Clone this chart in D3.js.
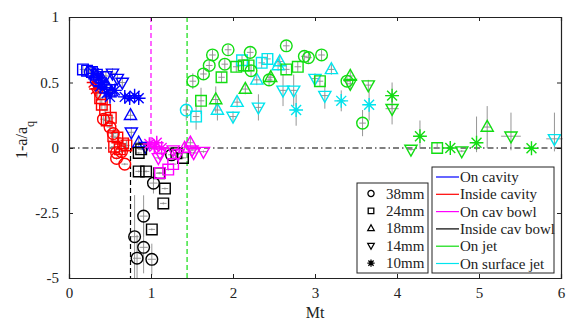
<!DOCTYPE html>
<html>
<head>
<meta charset="utf-8">
<script src="https://cdn.jsdelivr.net/npm/d3@7"></script>
<style>
  body { margin: 0; background: #fff; }
  svg text { font-family: "Liberation Serif", "DejaVu Serif", "Times New Roman", serif !important; }
</style>
</head>
<body>
<script>
// marker codes: o = 38mm, s = 24mm, ^ = 18mm, v = 14mm, * = 10mm
// each point: [marker, Mt, 1-a/aq, xErr, yErr]
var xTicks = [0, 1, 2, 3, 4, 5, 6];
var yTicks = [1, 0.5, 0, -2.5, -5];
var yTickLabels = ["1", "0.5", "0", "-2.5", "-5"];

var sizeNames = ["38mm", "24mm", "18mm", "14mm", "10mm"];
var sizeMarkers = ["o", "s", "^", "v", "*"];

var regionNames = ["On cavity", "Inside cavity", "On cav bowl", "Inside cav bowl", "On jet", "On surface jet"];
var regionColors = ["#0000ff", "#ff0000", "#ff00ff", "#000000", "#11dd11", "#00e5ee"];

var insideCavity = [
    ["*", 0.30, 0.50], ["*", 0.33, 0.45], ["v", 0.35, 0.42], ["s", 0.38, 0.38],
    ["s", 0.40, 0.33], ["s", 0.44, 0.29], ["o", 0.42, 0.22], ["s", 0.46, 0.21],
    ["s", 0.51, 0.23], ["o", 0.50, 0.16], ["o", 0.54, 0.11], ["s", 0.54, 0.09],
    ["s", 0.59, 0.08], ["s", 0.66, 0.035], ["s", 0.70, 0.02], ["s", 0.55, 0.01],
    ["o", 0.58, -0.18], ["o", 0.64, -0.14], ["o", 0.58, -0.40], ["o", 0.68, -0.62],
    ["s", 0.62, -0.05]
];

var onCavity = [
    ["s", 0.17, 0.60], ["s", 0.22, 0.59], ["s", 0.28, 0.58], ["s", 0.34, 0.56],
    ["o", 0.26, 0.58], ["o", 0.33, 0.52],
    ["*", 0.30, 0.57], ["*", 0.36, 0.54], ["*", 0.40, 0.50], ["*", 0.43, 0.46],
    ["*", 0.46, 0.42], ["*", 0.50, 0.39], ["*", 0.38, 0.47], ["*", 0.56, 0.44],
    ["*", 0.68, 0.39], ["*", 0.74, 0.38], ["*", 0.80, 0.40], ["*", 0.85, 0.38],
    ["^", 0.32, 0.56], ["^", 0.40, 0.53], ["^", 0.46, 0.48], ["^", 0.52, 0.43],
    ["^", 0.75, 0.25], ["^", 0.85, 0.04],
    ["v", 0.45, 0.55], ["v", 0.53, 0.57], ["v", 0.59, 0.53], ["v", 0.65, 0.50],
    ["v", 0.50, 0.45], ["v", 0.76, 0.12], ["v", 0.93, 0.01]
];

var insideCavBowl = [
    ["s", 0.85, -0.19], ["s", 0.85, -0.9], ["s", 0.94, -0.9], ["s", 1.10, -0.97],
    ["o", 1.03, -1.35, 0.05, 0.4], ["s", 1.17, -1.56], ["s", 1.15, -2.13],
    ["o", 0.91, -2.62, 0.05, 0.8], ["s", 1.01, -3.13], ["o", 0.80, -3.41, 0.05, 1.6],
    ["o", 0.91, -3.82, 0.05, 1.0], ["o", 0.83, -4.24, 0.05, 0.9], ["o", 1.01, -4.28, 0.05, 0.6],
    ["o", 1.25, -0.26], ["s", 1.31, -0.2], ["s", 1.39, -0.38], ["s", 0.88, -0.05]
];

var onCavBowl = [
    ["*", 0.98, 0.03], ["*", 1.04, 0.01], ["*", 1.07, 0.04], ["*", 1.13, 0.0],
    ["v", 1.09, -0.38], ["v", 1.11, -0.2], ["v", 1.27, -0.08], ["v", 1.33, -0.23],
    ["v", 1.52, -0.19], ["v", 1.64, -0.14], ["v", 1.50, -0.08],
    ["^", 1.41, 0.0], ["^", 1.48, 0.04],
    ["s", 1.21, -0.83], ["s", 1.27, -0.62], ["s", 1.11, -0.96]
];

var onSurfaceJet = [
    ["o", 1.43, 0.29, 0.04, 0.08],
    ["s", 1.55, 0.24, 0.04, 0.1], ["s", 2.11, 0.67], ["s", 2.35, 0.65], ["s", 2.42, 0.68],
    ["^", 1.81, 0.29, 0.05, 0.08], ["^", 2.05, 0.35], ["^", 2.29, 0.52], ["^", 2.55, 0.63],
    ["^", 2.57, 0.66], ["^", 3.20, 0.60],
    ["v", 2.00, 0.24], ["v", 2.31, 0.31, 0.04, 0.1], ["v", 2.61, 0.44, 0.04, 0.12],
    ["v", 2.74, 0.44, 0.04, 0.12], ["v", 3.00, 0.53], ["v", 3.12, 0.40, 0.05, 0.1],
    ["v", 5.92, 0.07, 0.1, 0.2],
    ["*", 2.77, 0.29, 0.04, 0.12], ["*", 3.32, 0.36, 0.05, 0.08], ["*", 3.66, 0.33, 0.05, 0.12]
];

var onJet = [
    ["o", 1.51, 0.51, 0.04, 0.06], ["o", 1.64, 0.565], ["o", 1.71, 0.63], ["o", 1.75, 0.71],
    ["o", 1.94, 0.75], ["o", 1.90, 0.64], ["o", 2.21, 0.73], ["o", 2.22, 0.59],
    ["o", 2.44, 0.52], ["o", 2.65, 0.78], ["o", 2.87, 0.70], ["o", 2.92, 0.69],
    ["o", 3.08, 0.71], ["o", 3.39, 0.51], ["o", 3.58, 0.19, 0.04, 0.1],
    ["s", 1.86, 0.54], ["s", 2.04, 0.62], ["s", 2.13, 0.63], ["s", 2.19, 0.63],
    ["s", 1.61, 0.36, 0.04, 0.1], ["s", 2.65, 0.60], ["s", 2.79, 0.62], ["s", 3.06, 0.51],
    ["s", 4.49, 0.0],
    ["^", 2.46, 0.54], ["^", 2.15, 0.45], ["^", 1.79, 0.37, 0.05, 0.1], ["^", 3.43, 0.55],
    ["^", 5.10, 0.16, 0.05, 0.16],
    ["v", 3.43, 0.49], ["v", 3.65, 0.48], ["v", 3.94, 0.30, 0.08, 0.12],
    ["v", 4.17, -0.06], ["v", 4.79, -0.12], ["v", 5.39, 0.09, 0.12, 0.18],
    ["*", 3.94, 0.40, 0.08, 0.1], ["*", 4.28, 0.09, 0.05, 0.12], ["*", 4.65, 0.0, 0.05, 0.05],
    ["*", 4.97, 0.04, 0.05, 0.2], ["*", 5.64, -0.01, 0.05, 0.05]
];

var regionData = [onCavity, insideCavity, onCavBowl, insideCavBowl, onJet, onSurfaceJet];
var drawOrder = [1, 0, 3, 2, 5, 4];

var width = 580, height = 327;
var margin = {left: 69, right: 19, top: 17, bottom: 49};
var serif = "'Liberation Serif', 'DejaVu Serif', serif";

var svg = d3.select("body").append("svg")
    .attr("width", width)
    .attr("height", height)
    .attr("font-family", serif);

var x = d3.scaleLinear()
    .domain([0, 6])
    .range([margin.left, width - margin.right]);

// piecewise: upper part 0..1 is stretched, lower part 0..-5 compressed
var y = d3.scaleLinear()
    .domain([-5, 0, 1])
    .range([height - margin.bottom, 148, margin.top]);

// reference lines
svg.append("line")
    .attr("x1", x(0)).attr("x2", x(6))
    .attr("y1", y(0)).attr("y2", y(0))
    .attr("stroke", "#000").attr("stroke-width", 1.2)
    .attr("stroke-dasharray", "6,3,1.5,3");

svg.append("line")
    .attr("x1", x(1)).attr("x2", x(1))
    .attr("y1", y(1)).attr("y2", y(0))
    .attr("stroke", "#ff00ff").attr("stroke-width", 1.2)
    .attr("stroke-dasharray", "5,3");

svg.append("line")
    .attr("x1", x(1.44)).attr("x2", x(1.44))
    .attr("y1", y(1)).attr("y2", y(-5))
    .attr("stroke", "#11dd11").attr("stroke-width", 1.2)
    .attr("stroke-dasharray", "5,3");

svg.append("line")
    .attr("x1", x(0.75)).attr("x2", x(0.75))
    .attr("y1", y(0)).attr("y2", y(-5))
    .attr("stroke", "#000").attr("stroke-width", 1.2)
    .attr("stroke-dasharray", "5,3");

function markerPath(m, s) {
    var p = d3.path();
    if (m === "s") {
        p.rect(-s, -s, 2 * s, 2 * s);
    } else if (m === "^") {
        p.moveTo(0, -s * 1.25); p.lineTo(s * 1.15, s * 0.8); p.lineTo(-s * 1.15, s * 0.8); p.closePath();
    } else if (m === "v") {
        p.moveTo(0, s * 1.25); p.lineTo(s * 1.15, -s * 0.8); p.lineTo(-s * 1.15, -s * 0.8); p.closePath();
    } else if (m === "*") {
        var r = s * 1.3, d = r * 0.72;
        p.moveTo(-r, 0); p.lineTo(r, 0);
        p.moveTo(0, -r); p.lineTo(0, r);
        p.moveTo(-d, -d); p.lineTo(d, d);
        p.moveTo(-d, d); p.lineTo(d, -d);
    } else {
        p.arc(0, 0, s * 1.1, 0, 2 * Math.PI);
    }
    return p.toString();
}

var plot = svg.append("g");

// error bars under the markers
drawOrder.forEach(function (ri) {
    var g = plot.append("g").attr("class", "err");
    regionData[ri].forEach(function (d) {
        var ex = d[3] !== undefined ? d[3] : 0.04;
        var ey = d[4] !== undefined ? d[4] : 0.04;
        g.append("line")
            .attr("x1", x(d[1] - ex)).attr("x2", x(d[1] + ex))
            .attr("y1", y(d[2])).attr("y2", y(d[2]))
            .attr("stroke", "#8a8a8a").attr("stroke-width", 0.9);
        g.append("line")
            .attr("x1", x(d[1])).attr("x2", x(d[1]))
            .attr("y1", y(Math.min(1, d[2] + ey))).attr("y2", y(Math.max(-5, d[2] - ey)))
            .attr("stroke", "#8a8a8a").attr("stroke-width", 0.9);
    });
});

drawOrder.forEach(function (ri) {
    plot.append("g")
        .selectAll("path")
        .data(regionData[ri])
        .enter().append("path")
        .attr("transform", function (d) { return "translate(" + x(d[1]) + "," + y(d[2]) + ")"; })
        .attr("d", function (d) { return markerPath(d[0], 5.3); })
        .attr("fill", "none")
        .attr("stroke", regionColors[ri])
        .attr("stroke-width", 1.4);
});

// axes (box with inward ticks)
var axisColor = "#222";
var xAxis = d3.axisBottom(x).tickValues(xTicks).tickSize(-4).tickFormat(d3.format("d")).tickPadding(9);
var xAxisTop = d3.axisTop(x).tickValues(xTicks).tickSize(-4).tickFormat("");
var yAxis = d3.axisLeft(y).tickValues(yTicks).tickSize(-4).tickPadding(10)
    .tickFormat(function (d, i) { return yTickLabels[i]; });
var yAxisRight = d3.axisRight(y).tickValues(yTicks).tickSize(-4).tickFormat("");

function styleAxis(g) {
    g.attr("font-family", serif).attr("font-size", 15);
    g.select(".domain").attr("stroke", axisColor).attr("stroke-width", 1.2);
    g.selectAll(".tick line").attr("stroke", axisColor);
    g.selectAll("text").attr("fill", "#222");
}

svg.append("g").attr("transform", "translate(0," + y(-5) + ")").call(xAxis).call(styleAxis);
svg.append("g").attr("transform", "translate(0," + y(1) + ")").call(xAxisTop).call(styleAxis);
svg.append("g").attr("transform", "translate(" + x(0) + ",0)").call(yAxis).call(styleAxis);
svg.append("g").attr("transform", "translate(" + x(6) + ",0)").call(yAxisRight).call(styleAxis);

// axis titles
svg.append("text")
    .attr("x", x(3))
    .attr("y", 318)
    .attr("text-anchor", "middle")
    .attr("fill", "#222")
    .attr("font-size", 16)
    .text("Mt");

var yLabel = svg.append("text")
    .attr("transform", "translate(27,140) rotate(-90)")
    .attr("text-anchor", "middle")
    .attr("fill", "#222")
    .attr("font-size", 16);
yLabel.append("tspan").text("1-a/a");
yLabel.append("tspan").attr("dy", 7).attr("font-size", 12).text("q");

// marker legend
var lg1 = svg.append("g");
lg1.append("rect")
    .attr("x", 357).attr("y", 183).attr("width", 71).attr("height", 90)
    .attr("fill", "#fff").attr("stroke", "#222").attr("stroke-width", 1);
sizeNames.forEach(function (name, i) {
    var yy = 193.5 + i * 17.4;
    lg1.append("path")
        .attr("transform", "translate(371," + yy + ")")
        .attr("d", markerPath(sizeMarkers[i], 2.8))
        .attr("fill", sizeMarkers[i] === "*" ? "#000" : "none")
        .attr("stroke", "#000").attr("stroke-width", 1.3);
    lg1.append("text")
        .attr("x", 386).attr("y", yy + 5)
        .attr("fill", "#222")
        .attr("font-size", 15)
        .text(name);
});

// region legend
var lg2 = svg.append("g");
lg2.append("rect")
    .attr("x", 432).attr("y", 167).attr("width", 122).attr("height", 106)
    .attr("fill", "#fff").attr("stroke", "#222").attr("stroke-width", 1);
regionNames.forEach(function (name, i) {
    var yy = 177 + i * 17.3;
    lg2.append("line")
        .attr("x1", 436).attr("x2", 459)
        .attr("y1", yy).attr("y2", yy)
        .attr("stroke", regionColors[i]).attr("stroke-width", 1.2);
    lg2.append("text")
        .attr("x", 460).attr("y", yy + 5)
        .attr("fill", "#222")
        .attr("font-size", 15)
        .text(name);
});
</script>
</body>
</html>
